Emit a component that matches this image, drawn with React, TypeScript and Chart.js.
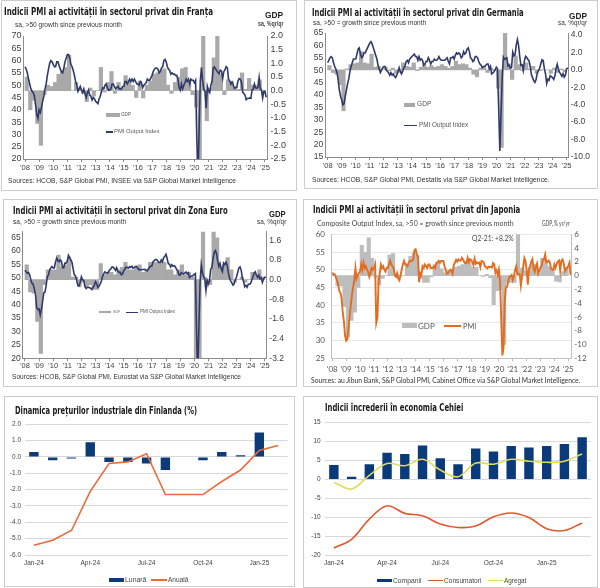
import React, { useEffect, useLayoutEffect, useRef } from "react";
import { Chart, registerables } from "chart.js";
Chart.register(...registerables);

const NARROW = '"Liberation Sans Narrow","DejaVu Sans Condensed","Arial Narrow",sans-serif';
const SANS = '"Liberation Sans",Arial,Helvetica,sans-serif';
const LATO = 'Lato,"Open Sans",sans-serif';

// ---------- data ----------
const YEARS = [2008, 2009, 2010, 2011, 2012, 2013, 2014, 2015, 2016, 2017, 2018, 2019, 2020, 2021, 2022, 2023, 2024, 2025];

const FR_PMI = [
  57.5, 56.5, 55.0, 52.5, 50.5, 48.5, 47.5, 47.0, 45.5, 42.0, 38.0, 36.5,
  40.0, 39.0, 41.0, 43.5, 45.5, 48.5, 50.5, 54.0, 56.5, 59.0, 60.0, 59.5,
  58.5, 57.5, 57.5, 59.5, 59.5, 58.0, 56.5, 55.5, 55.0, 57.0, 59.5, 61.0,
  62.5, 62.5, 61.0, 58.5, 57.5, 56.0, 54.0, 51.5, 50.0, 47.5, 48.5, 49.5,
  48.0, 47.0, 48.5, 46.5, 45.0, 47.0, 48.0, 46.0, 45.5, 44.0, 45.0, 44.5,
  43.5, 43.0, 42.5, 44.5, 45.5, 47.5, 49.0, 48.5, 50.0, 50.5, 49.0, 48.0,
  48.0, 48.5, 50.5, 50.5, 49.5, 48.5, 49.0, 49.5, 48.5, 48.5, 48.5, 49.5,
  49.5, 51.5, 51.5, 50.5, 51.5, 52.5, 51.5, 52.5, 51.5, 52.5, 51.5, 50.5,
  50.5, 50.0, 51.5, 51.0, 49.0, 50.0, 50.5, 51.0, 52.5, 52.0, 52.0, 53.0,
  54.0, 55.5, 56.5, 57.0, 57.0, 56.5, 55.0, 55.5, 57.0, 57.5, 60.0, 60.5,
  59.5, 57.5, 56.5, 56.0, 54.5, 55.0, 54.5, 54.5, 54.0, 54.0, 52.5, 49.0,
  48.0, 50.5, 48.5, 50.0, 51.0, 52.5, 51.5, 52.5, 50.5, 52.5, 52.0, 52.0,
  51.0, 52.0, 28.9, 11.1, 32.1, 51.7, 57.3, 51.6, 48.5, 47.5, 40.6, 49.5,
  47.7, 47.0, 50.0, 51.6, 57.0, 57.4, 56.6, 55.9, 55.3, 54.7, 56.1, 55.8,
  52.7, 55.5, 56.3, 57.6, 57.0, 52.5, 51.7, 50.4, 51.2, 50.2, 48.7, 49.1,
  49.1, 51.7, 52.7, 52.4, 51.2, 47.2, 46.6, 46.0, 44.1, 44.6, 44.6, 44.8,
  44.6, 48.1, 48.3, 50.5, 48.9, 48.8, 49.1, 53.1, 48.6, 48.1, 44.8, 47.5,
  47.6, 45.1,
];
const FR_GDP = [
  0.5, -0.7, -0.35, -1.2,
  -2.0, -0.15, 0.2, 0.15,
  0.3, 0.6, 0.7, 0.85,
  1.3, 0.0, 0.3, 0.1,
  -0.1, -0.4, 0.1, -0.2,
  0.0, 0.85, -0.05, 0.3,
  0.7, -0.1, 0.3, 0.1,
  0.55, 0.4, 0.2, -0.25,
  0.35, -0.27, 0.2, 0.35,
  0.6, 0.65, 0.75, 0.8,
  0.2, -0.1, 0.3, 0.5,
  0.8, 0.85, 0.3, -0.15,
  -0.6, -13.5, 18.5, -1.1,
  0.1, 1.2, 3.0, 0.6,
  -0.15, 0.4, 0.35, 0.1,
  0.05, 0.65, 0.05, 0.45,
  0.2, 0.2, 0.4, -0.1,
];

const DE_PMI = [
  53.0, 54.0, 55.0, 55.5, 55.0, 53.0, 51.5, 50.5, 49.0, 46.0, 42.0, 39.5,
  38.0, 36.0, 36.5, 39.5, 42.0, 44.5, 46.5, 49.5, 51.5, 53.0, 54.5, 54.5,
  54.5, 56.5, 58.5, 59.0, 56.5, 55.0, 55.5, 57.0, 57.0, 58.0, 59.0, 60.0,
  61.0, 61.5, 60.5, 59.0, 57.5, 56.0, 54.5, 52.0, 50.5, 49.0, 50.0, 51.0,
  51.5, 51.5, 50.0, 49.5, 49.0, 48.0, 49.0, 48.0, 48.5, 47.5, 47.0, 48.0,
  49.5, 51.0, 49.5, 48.5, 49.5, 51.0, 51.5, 53.5, 54.0, 53.0, 54.5, 55.0,
  55.5, 56.0, 56.5, 55.5, 55.5, 54.0, 55.5, 54.0, 54.5, 54.0, 52.0, 52.5,
  53.5, 53.5, 55.0, 54.0, 52.5, 53.5, 53.5, 54.5, 54.0, 54.0, 54.5, 55.5,
  54.5, 54.0, 54.0, 54.0, 54.0, 54.5, 55.0, 53.5, 52.5, 55.0, 55.0, 55.5,
  54.5, 56.0, 57.0, 56.5, 57.0, 56.5, 55.0, 55.5, 57.5, 56.5, 57.0, 58.5,
  59.0, 57.5, 55.0, 54.5, 53.5, 54.0, 55.5, 55.5, 55.0, 53.5, 52.5, 52.0,
  51.0, 51.5, 51.5, 52.0, 52.5, 52.5, 50.5, 51.5, 48.5, 48.9, 49.4, 50.2,
  51.2, 50.7, 35.0, 17.4, 32.3, 47.0, 55.3, 54.4, 54.7, 55.0, 51.7, 52.0,
  50.8, 51.1, 57.3, 55.8, 56.2, 60.1, 62.4, 60.0, 55.5, 52.0, 52.2, 49.9,
  53.8, 55.6, 55.1, 54.3, 53.7, 51.3, 48.1, 46.9, 45.7, 45.1, 46.3, 49.0,
  49.9, 50.7, 52.6, 54.2, 53.9, 50.6, 48.5, 44.6, 46.4, 45.9, 47.8, 47.4,
  47.0, 46.3, 47.7, 50.6, 52.4, 50.4, 49.1, 48.4, 47.5, 48.6, 47.2, 48.0,
  50.5, 51.0,
];
const DE_GDP = [
  0.5, -0.3, -0.5, -1.7,
  -4.7, 0.1, 0.6, 0.7,
  0.8, 2.1, 0.8, 0.7,
  1.8, 0.3, 0.4, 0.0,
  0.3, -0.1, 0.2, -0.4,
  -0.3, 0.8, 0.4, 0.3,
  0.8, -0.1, 0.3, 0.6,
  0.3, 0.5, 0.3, 0.4,
  0.6, 0.4, 0.2, 0.4,
  1.0, 0.6, 0.7, 0.6,
  0.2, -0.5, -0.8, 0.2,
  0.4, -0.3, 0.2, -0.1,
  -2.1, -8.9, 8.5, 0.7,
  -1.1, 1.6, 0.6, -0.1,
  0.8, 0.1, 0.4, -0.4,
  -0.1, 0.0, 0.0, -0.4,
  0.2, -0.3, 0.1, -0.2,
];

const EZ_PMI = [
  52.8, 52.3, 51.7, 52.0, 51.1, 49.3, 47.9, 47.6, 45.9, 43.6, 38.9, 38.2,
  38.4, 36.2, 38.3, 41.1, 44.4, 44.6, 47.0, 50.4, 51.1, 53.0, 53.7, 54.2,
  53.7, 53.7, 55.9, 57.3, 56.4, 56.0, 56.7, 56.2, 53.8, 53.8, 55.5, 55.5,
  56.2, 58.4, 57.6, 56.7, 55.8, 53.3, 51.1, 50.7, 49.1, 47.2, 47.0, 48.3,
  50.4, 49.3, 49.1, 46.7, 46.0, 46.4, 46.5, 46.3, 46.1, 45.7, 46.5, 47.2,
  48.6, 47.9, 46.5, 46.9, 47.7, 48.7, 50.5, 51.5, 52.2, 51.9, 51.7, 52.1,
  52.9, 53.3, 54.0, 54.0, 53.5, 52.8, 53.8, 52.5, 52.0, 52.1, 51.1, 51.4,
  52.6, 53.3, 54.0, 53.9, 53.6, 54.2, 53.9, 54.3, 53.6, 53.9, 54.2, 54.3,
  53.6, 53.0, 53.1, 53.0, 53.1, 53.1, 53.2, 52.9, 52.6, 53.3, 53.9, 54.4,
  54.4, 56.0, 56.4, 56.8, 56.8, 56.3, 55.7, 55.7, 56.7, 56.0, 57.5, 58.1,
  58.8, 57.1, 55.2, 55.1, 54.1, 54.9, 54.3, 54.5, 54.1, 53.1, 52.7, 51.1,
  51.0, 51.9, 51.6, 51.5, 51.8, 52.2, 51.5, 51.9, 50.1, 50.6, 50.6, 50.9,
  51.3, 51.6, 29.7, 13.6, 31.9, 48.5, 54.9, 51.9, 50.4, 50.0, 45.3, 49.1,
  47.8, 48.8, 53.2, 53.8, 57.1, 59.5, 60.2, 59.0, 56.2, 54.2, 55.4, 53.3,
  52.3, 55.5, 54.9, 55.8, 54.8, 52.0, 49.9, 48.9, 48.1, 47.3, 47.8, 49.3,
  50.3, 52.0, 53.7, 54.1, 52.8, 49.9, 48.6, 46.7, 47.2, 46.5, 47.6, 47.6,
  47.9, 49.2, 50.3, 51.7, 52.2, 50.9, 50.2, 51.0, 49.6, 50.0, 48.3, 49.6,
  50.2, 50.2,
];
const EZ_GDP = [
  0.6, -0.5, -0.55, -1.7,
  -3.0, -0.2, 0.4, 0.4,
  0.4, 1.0, 0.5, 0.6,
  0.9, 0.1, 0.1, -0.3,
  -0.1, -0.3, -0.2, -0.4,
  -0.4, 0.65, 0.2, 0.3,
  0.3, 0.2, 0.4, 0.5,
  0.7, 0.4, 0.4, 0.5,
  0.6, 0.3, 0.4, 0.7,
  0.7, 0.7, 0.7, 0.7,
  0.4, 0.4, 0.2, 0.4,
  0.6, 0.2, 0.3, 0.1,
  -3.5, -11.6, 12.5, -0.3,
  -0.2, 2.2, 1.7, 0.5,
  0.6, 0.9, 0.4, -0.1,
  0.0, 0.1, -0.1, 0.0,
  0.3, 0.2, 0.4, 0.1,
];

const JP_PMI = [
  49.2, 48.8, 48.5, 48.0, 47.0, 46.0, 44.0, 43.5, 42.0, 38.0, 35.5, 31.5,
  30.0, 30.5, 33.5, 37.0, 40.0, 43.0, 45.0, 47.0, 50.5, 47.5, 48.5, 49.0,
  49.5, 51.5, 50.0, 52.0, 50.5, 51.0, 50.0, 49.5, 48.0, 49.0, 50.5, 50.0,
  50.5, 51.5, 35.0, 36.5, 46.5, 49.0, 51.5, 50.5, 51.0, 50.0, 49.5, 50.5,
  50.5, 51.5, 52.5, 51.5, 51.0, 50.5, 48.5, 48.0, 49.0, 47.5, 47.0, 48.5,
  50.0, 51.5, 52.5, 51.5, 51.5, 51.0, 52.0, 52.5, 52.5, 52.5, 53.0, 55.5,
  55.8, 54.5, 53.5, 46.5, 49.0, 48.5, 51.0, 50.5, 51.5, 51.0, 50.5, 51.5,
  51.5, 50.5, 50.5, 50.5, 51.0, 50.5, 52.0, 52.0, 52.5, 52.0, 52.5, 52.5,
  52.5, 51.0, 50.0, 48.9, 49.0, 49.5, 50.0, 49.8, 48.9, 51.3, 52.0, 52.8,
  52.3, 52.9, 52.6, 52.6, 53.4, 52.9, 52.2, 51.9, 51.9, 53.4, 52.2, 53.0,
  52.8, 52.2, 51.3, 53.1, 51.7, 52.1, 51.8, 52.0, 50.7, 52.5, 52.4, 52.0,
  50.9, 50.7, 50.4, 50.8, 50.7, 50.8, 50.6, 51.9, 51.5, 49.1, 49.8, 48.6,
  50.1, 47.0, 36.2, 25.8, 27.8, 40.8, 44.9, 45.2, 46.6, 48.0, 48.1, 48.5,
  47.1, 48.2, 49.9, 51.0, 48.8, 48.9, 48.8, 45.5, 47.9, 50.7, 53.3, 52.5,
  49.9, 45.8, 50.3, 51.1, 52.3, 53.0, 50.2, 49.4, 51.0, 51.8, 48.9, 49.7,
  50.7, 51.1, 52.9, 52.9, 54.3, 52.1, 52.2, 52.6, 52.1, 50.5, 50.0, 50.0,
  51.5, 50.6, 51.7, 52.3, 52.6, 49.7, 52.5, 52.9, 52.0, 49.6, 50.1, 50.5,
  51.1, 52.0, 48.5,
];
const JP_GDP = [
  0.3, -1.5, -1.5, -4.5,
  -8.9, -6.5, -5.3, -1.7,
  4.4, 3.4, 5.5, 2.5,
  -0.3, -1.4, -0.4, 0.0,
  3.0, 3.2, 0.2, -0.1,
  0.0, 1.5, 2.8, 3.3,
  3.0, -0.4, -1.0, -1.0,
  -0.2, 1.6, 1.9, 1.0,
  0.4, 0.8, 0.9, 1.2,
  1.4, 1.6, 2.0, 2.0,
  1.2, 1.2, 0.0, -0.1,
  0.2, -0.3, -4.2, -2.2,
  -2.0, -10.0, -1.0, -1.0,
  -1.0, 8.2, 1.1, 0.7,
  0.6, 1.6, 1.6, 0.3,
  2.5, 2.2, 1.3, 1.0,
  -0.8, -0.9, 0.6, 1.2,
];

const FR_LEFT_TICKS = [20, 25, 30, 35, 40, 45, 50, 55, 60, 65, 70];
const FR_RIGHT_TICKS = [-2.5, -2.0, -1.5, -1.0, -0.5, 0.0, 0.5, 1.0, 1.5, 2.0];
const DE_LEFT_TICKS = [15, 20, 25, 30, 35, 40, 45, 50, 55, 60, 65];
const DE_RIGHT_TICKS = [-10, -8, -6, -4, -2, 0, 2, 4];
const EZ_LEFT_TICKS = [20, 25, 30, 35, 40, 45, 50, 55, 60, 65];
const EZ_RIGHT_TICKS = [-3.2, -2.4, -1.6, -0.8, 0.0, 0.8, 1.6];
const JP_LEFT_TICKS = [25, 30, 35, 40, 45, 50, 55, 60];
const JP_RIGHT_TICKS = [-12, -10, -8, -6, -4, -2, 0, 2, 4, 6];

const FI_MONTHS = ["Jan-24", "Feb-24", "Mar-24", "Apr-24", "May-24", "Jun-24", "Jul-24", "Aug-24", "Sep-24", "Oct-24", "Nov-24", "Dec-24", "Jan-25", "Feb-25"];
const FI_MONTHLY = [0.3, -0.2, -0.1, 0.9, -0.3, -0.3, -0.4, -0.8, 0.0, -0.2, 0.3, 0.1, 1.5, 0.0];
const FI_ANNUAL = [-5.4, -5.1, -4.5, -2.1, -0.4, -0.3, 0.2, -2.3, -2.3, -2.3, -1.5, -0.8, 0.4, 0.7];
const FI_TICKS = [-6, -5, -4, -3, -2, -1, 0, 1, 2];

const CZ_MONTHS = ["Jan-24", "Feb-24", "Mar-24", "Apr-24", "May-24", "Jun-24", "Jul-24", "Aug-24", "Sep-24", "Oct-24", "Nov-24", "Dec-24", "Jan-25", "Feb-25", "Mar-25"];
const CZ_COMPANII = [3.8, 0.7, 4.0, 7.0, 6.7, 8.9, 5.6, 4.0, 8.1, 7.35, 8.8, 8.4, 8.8, 9.3, 11.1];
const CZ_CONSUMATORI = [-18.0, -15.7, -10.4, -6.9, -8.9, -9.5, -11.7, -12.6, -12.2, -9.8, -8.8, -10.0, -12.9, -13.4, -11.4];
const CZ_AGREGAT = [-0.7, -2.5, 1.1, 4.2, 3.6, 5.3, 2.5, 0.7, 4.3, 4.0, 5.3, 4.8, 4.5, 4.8, 6.7];
const CZ_TICKS = [-20, -15, -10, -5, 0, 5, 10, 15];

// ---------- helpers ----------
type Box = { x: number; y: number; w: number; h: number };
type Plot = { l: number; r: number; t: number; b: number };

function padFor(box: Box, p: Plot, yW: number, y1W: number, xH: number) {
  return {
    left: p.l - box.x - yW,
    right: box.x + box.w - p.r - y1W,
    top: p.t - box.y,
    bottom: box.y + box.h - p.b - xH,
  };
}

function setTicks(list: number[]) {
  return (s: any) => {
    s.ticks = list.map((v) => ({ value: v }));
  };
}

function pmiConfig(o: any) {
  const pad = padFor(o.box, o.plot, o.yW, o.y1W, o.xH);
  return {
    type: "bar",
    data: {
      datasets: [
        {
          type: "line",
          data: o.pmi.map((v: number, i: number) => ({ x: 2008 + i / 12, y: v })),
          borderColor: o.lineColor,
          borderWidth: o.lineWidth,
          pointRadius: 0,
          tension: 0,
          yAxisID: "y",
          xAxisID: "x",
        },
        {
          type: "bar",
          data: o.gdp.map((v: number, i: number) => ({ x: 2008 + (i + 0.5) / 4, y: v })),
          backgroundColor: o.barColor,
          borderWidth: 0,
          barPercentage: 1,
          categoryPercentage: 1,
          yAxisID: "y1",
          xAxisID: "x",
        },
      ],
    },
    options: {
      responsive: false,
      maintainAspectRatio: false,
      animation: false,
      events: [],
      layout: { padding: pad },
      plugins: { legend: { display: false }, tooltip: { enabled: false } },
      scales: {
        x: {
          type: "linear",
          offset: false,
          min: o.xMin,
          max: o.xMax,
          afterBuildTicks: setTicks(YEARS),
          afterFit: (s: any) => {
            s.height = o.xH;
          },
          ticks: {
            callback: (v: any) => "'" + String(v).slice(2),
            font: { family: o.font, size: o.xFont },
            color: o.textColor,
            padding: o.xPad,
            maxRotation: 0,
            autoSkip: false,
          },
          grid: { display: true, offset: false, drawOnChartArea: false, drawTicks: true, tickLength: 3, color: o.axisColor },
          border: { display: true, color: o.axisColor },
        },
        y: {
          position: "left",
          min: o.yMin,
          max: o.yMax,
          afterBuildTicks: setTicks(o.yTicks),
          afterFit: (s: any) => {
            s.width = o.yW;
          },
          ticks: {
            autoSkip: false,
            callback: (v: any) => String(v),
            font: { family: o.font, size: o.yFont },
            color: o.textColor,
            padding: o.yPad,
          },
          grid: { display: !!o.grid, color: o.grid || "#fff", drawTicks: false },
          border: { display: true, color: o.axisColor },
        },
        y1: {
          position: "right",
          min: o.y1Min,
          max: o.y1Max,
          afterBuildTicks: setTicks(o.y1Ticks),
          afterFit: (s: any) => {
            s.width = o.y1W;
          },
          ticks: {
            autoSkip: false,
            callback: (v: any) => Number(v).toFixed(o.y1Dec),
            font: { family: o.font, size: o.yFont },
            color: o.textColor,
            padding: o.y1Pad,
          },
          grid: { display: false, drawTicks: false },
          border: { display: true, color: o.axisColor },
        },
      },
    },
  };
}

function catConfig(o: any) {
  const pad = padFor(o.box, o.plot, o.yW, 0, o.xH);
  return {
    type: "bar",
    data: { labels: o.labels, datasets: o.datasets },
    options: {
      responsive: false,
      maintainAspectRatio: false,
      animation: false,
      events: [],
      layout: { padding: pad },
      plugins: { legend: { display: false }, tooltip: { enabled: false } },
      scales: {
        x: {
          afterFit: (s: any) => {
            s.height = o.xH;
          },
          ticks: {
            autoSkip: false,
            maxRotation: 0,
            callback: (v: any) => ((v as number) % 3 === 0 ? o.labels[v as number] : ""),
            font: { family: SANS, size: 6.5 },
            color: "#444",
            padding: 4,
          },
          grid: { display: false, drawTicks: false },
          border: { display: false },
        },
        y: {
          min: o.yMin,
          max: o.yMax,
          afterBuildTicks: setTicks(o.yTicks),
          afterFit: (s: any) => {
            s.width = o.yW;
          },
          ticks: {
            autoSkip: false,
            callback: (v: any) => Number(v).toFixed(o.yDec),
            font: { family: SANS, size: 6.5 },
            color: "#444",
            padding: o.yPad,
          },
          grid: { color: "#d9d9d9", drawTicks: false },
          border: { display: false },
        },
      },
    },
  };
}

function ChartBox({ box, make }: { box: Box; make: () => any }) {
  const ref = useRef<HTMLCanvasElement>(null);
  useEffect(() => {
    const c = new Chart(ref.current as HTMLCanvasElement, make());
    return () => c.destroy();
  }, []);
  return (
    <canvas
      ref={ref}
      width={box.w}
      height={box.h}
      style={{ position: "absolute", left: box.x, top: box.y, width: box.w, height: box.h }}
    />
  );
}

function Txt({ x, y, w, text, size, font = SANS, weight = 400, color = "#222" }: any) {
  const ref = useRef<HTMLDivElement>(null);
  useLayoutEffect(() => {
    const el = ref.current;
    if (!el) return;
    el.style.transform = "translateY(-50%)";
    const nat = el.getBoundingClientRect().width;
    if (w && nat > 0) el.style.transform = `translateY(-50%) scaleX(${(w / nat).toFixed(4)})`;
  });
  return (
    <div
      ref={ref}
      style={{
        position: "absolute",
        left: x,
        top: y,
        fontSize: size,
        fontFamily: font,
        fontWeight: weight,
        color,
        whiteSpace: "nowrap",
        lineHeight: 1,
        transformOrigin: "0 50%",
      }}
    >
      {text}
    </div>
  );
}

function Rect({ x, y, w, h, c }: any) {
  return <div style={{ position: "absolute", left: x, top: y, width: w, height: h, background: c }} />;
}

function Frame({ b }: { b: Box }) {
  return (
    <div
      style={{
        position: "absolute",
        left: b.x,
        top: b.y,
        width: b.w,
        height: b.h,
        boxSizing: "border-box",
        border: "1px solid #cdcdcd",
        pointerEvents: "none",
      }}
    />
  );
}

// ---------- layouts ----------
const NAVY_LINE = "#2f3a6a";
const GRAY_BAR = "#a9a9a9";

const FR_BOX = { x: 1, y: 0, w: 296, h: 191 };
const DE_BOX = { x: 304, y: 0, w: 294, h: 189 };
const EZ_BOX = { x: 3, y: 199, w: 294, h: 188 };
const JP_BOX = { x: 303, y: 199, w: 295, h: 188 };
const FI_BOX = { x: 4, y: 396, w: 291, h: 191 };
const CZ_BOX = { x: 303, y: 396, w: 295, h: 192 };

const frCfg = () =>
  pmiConfig({
    box: FR_BOX, plot: { l: 23, r: 267, t: 36, b: 159 }, yW: 20, y1W: 22, xH: 16,
    pmi: FR_PMI, gdp: FR_GDP, lineColor: NAVY_LINE, lineWidth: 1.6, barColor: GRAY_BAR,
    xMin: 2007.858, xMax: 2025.142,
    yMin: 20, yMax: 70, yTicks: FR_LEFT_TICKS, y1Min: -2.5, y1Max: 2.0, y1Ticks: FR_RIGHT_TICKS, y1Dec: 1,
    font: SANS, yFont: 9, xFont: 7.5, xPad: 1.5, yPad: 1.5, y1Pad: 3.5, textColor: "#404040", axisColor: "#8c8c8c",
  });

const deCfg = () =>
  pmiConfig({
    box: DE_BOX, plot: { l: 325, r: 568, t: 33, b: 157 }, yW: 21, y1W: 22, xH: 16,
    pmi: DE_PMI, gdp: DE_GDP, lineColor: NAVY_LINE, lineWidth: 1.6, barColor: GRAY_BAR,
    xMin: 2007.81, xMax: 2025.1,
    yMin: 15, yMax: 65, yTicks: DE_LEFT_TICKS, y1Min: -10, y1Max: 4.23, y1Ticks: DE_RIGHT_TICKS, y1Dec: 1,
    font: SANS, yFont: 8.5, xFont: 7.5, xPad: 1.5, yPad: 1.7, y1Pad: 2.7, textColor: "#404040", axisColor: "#8c8c8c",
  });

const ezCfg = () =>
  pmiConfig({
    box: EZ_BOX, plot: { l: 22.7, r: 266, t: 231.7, b: 358.3 }, yW: 19, y1W: 22, xH: 14,
    pmi: EZ_PMI, gdp: EZ_GDP, lineColor: NAVY_LINE, lineWidth: 1.6, barColor: GRAY_BAR,
    xMin: 2007.84, xMax: 2025.09,
    yMin: 20, yMax: 67.2, yTicks: EZ_LEFT_TICKS, y1Min: -3.2, y1Max: 1.95, y1Ticks: EZ_RIGHT_TICKS, y1Dec: 1,
    font: SANS, yFont: 8.5, xFont: 7.5, xPad: 0.5, yPad: 2, y1Pad: 3.3, textColor: "#404040", axisColor: "#8c8c8c",
  });

const jpCfg = () =>
  pmiConfig({
    box: JP_BOX, plot: { l: 331, r: 571.7, t: 234.3, b: 358.3 }, yW: 22, y1W: 20, xH: 16,
    pmi: JP_PMI, gdp: JP_GDP, lineColor: "#e36c1e", lineWidth: 1.9, barColor: "#bdbdbd",
    xMin: 2007.906, xMax: 2025.245,
    yMin: 25, yMax: 60, yTicks: JP_LEFT_TICKS, y1Min: -12, y1Max: 6, y1Ticks: JP_RIGHT_TICKS, y1Dec: 0,
    font: LATO, yFont: 8, xFont: 8, xPad: 3, yPad: 6, y1Pad: 2.6, textColor: "#555", axisColor: "#bfbfbf", grid: "#e8e8e8",
  });

const fiCfg = () =>
  catConfig({
    box: FI_BOX, plot: { l: 24.5, r: 287.5, t: 424.3, b: 555 }, yW: 20, xH: 12,
    labels: FI_MONTHS, yMin: -6, yMax: 2, yTicks: FI_TICKS, yDec: 1, yPad: 3.5,
    datasets: [
      { type: "line", data: FI_ANNUAL, borderColor: "#ec6a3a", borderWidth: 1.6, pointRadius: 0, tension: 0 },
      { type: "bar", data: FI_MONTHLY, backgroundColor: "#0c3b78", categoryPercentage: 0.5, barPercentage: 1 },
    ],
  });

const czCfg = () =>
  catConfig({
    box: CZ_BOX, plot: { l: 325, r: 591, t: 422.3, b: 555.7 }, yW: 20, xH: 12,
    labels: CZ_MONTHS, yMin: -20, yMax: 15, yTicks: CZ_TICKS, yDec: 0, yPad: 4.3,
    datasets: [
      { type: "line", data: CZ_AGREGAT, borderColor: "#dedc5c", borderWidth: 1.6, pointRadius: 0, tension: 0.35 },
      { type: "line", data: CZ_CONSUMATORI, borderColor: "#e2582d", borderWidth: 1.6, pointRadius: 0, tension: 0.35 },
      { type: "bar", data: CZ_COMPANII, backgroundColor: "#0b3a7a", categoryPercentage: 0.53, barPercentage: 1 },
    ],
  });

export default function App() {
  return (
    <div style={{ position: "absolute", left: 0, top: 0, width: 600, height: 588, background: "#fff", overflow: "hidden" }}>
      {/* France */}
      <ChartBox box={FR_BOX} make={frCfg} />
      <Txt x={4} y={11} w={209} size={10.5} font={NARROW} weight={700} color="#1a1a1a" text="Indicii PMI ai activității în sectorul privat din Franța" />
      <Txt x={265} y={15} w={18} size={9} weight={700} color="#222" text="GDP" />
      <Txt x={258} y={23.5} w={25.5} size={6.5} weight={700} color="#444" text="sa, %qr/qr" />
      <Txt x={15} y={25} w={107} size={6.5} color="#333" text="sa, >50 growth since previous month" />
      <Txt x={8.3} y={181} w={228} size={6.7} color="#333" text="Sources: HCOB, S&P Global PMI, INSEE via S&P Global Market Intelligence" />
      <Rect x={106} y={112.7} w={14} h={4} c={GRAY_BAR} />
      <Txt x={121} y={114.5} w={10} size={5.5} color="#555" text="GDP" />
      <Rect x={106} y={131.3} w={7} h={1.6} c={NAVY_LINE} />
      <Txt x={113.5} y={132} w={45.5} size={5.5} color="#555" text="PMI Output Index" />
      <Frame b={FR_BOX} />

      {/* Germany */}
      <ChartBox box={DE_BOX} make={deCfg} />
      <Txt x={311.7} y={12} w={211.7} size={10.5} font={NARROW} weight={700} color="#1a1a1a" text="Indicii PMI ai activității în sectorul privat din Germania" />
      <Txt x={569.3} y={15.5} w={18} size={9} weight={700} color="#222" text="GDP" />
      <Txt x={558.3} y={23.3} w={29} size={6.5} color="#333" text="sa, %qr/qr" />
      <Txt x={313.3} y={23.3} w={113.3} size={6.5} color="#333" text="sa, >50 = growth since previous month" />
      <Txt x={311.7} y={180} w={237.7} size={6.7} color="#333" text="Sources: HCOB, S&P Global PMI, Destatis via S&P Global Market Intelligence." />
      <Rect x={404.3} y={102.7} w={10.7} h={4} c={GRAY_BAR} />
      <Txt x={416.7} y={104.3} w={14.3} size={6.5} color="#555" text="GDP" />
      <Rect x={404.3} y={124.5} w={13} h={1.6} c={NAVY_LINE} />
      <Txt x={419} y={125.3} w={49.3} size={6.3} color="#555" text="PMI Output Index" />
      <Frame b={DE_BOX} />

      {/* Euro zone */}
      <ChartBox box={EZ_BOX} make={ezCfg} />
      <Txt x={12.7} y={210} w={214.7} size={10.5} font={NARROW} weight={700} color="#1a1a1a" text="Indicii PMI ai activității în sectorul privat din Zona Euro" />
      <Txt x={269.3} y={214} w={16.7} size={9} weight={700} color="#222" text="GDP" />
      <Txt x={256.7} y={222.3} w={29.3} size={6.5} color="#333" text="sa, %qr/qr" />
      <Txt x={13.3} y={222.3} w={113.3} size={6.5} color="#333" text="sa, >50 = growth since previous month" />
      <Txt x={11.7} y={376.7} w={229} size={6.7} color="#333" text="Sources: HCOB, S&P Global PMI, Eurostat via S&P Global Market Intelligence" />
      <Rect x={99.3} y={311.3} w={11.4} h={2} c={GRAY_BAR} />
      <Txt x={113.3} y={312.3} w={6.7} size={4} color="#555" text="GDP" />
      <Rect x={126} y={311.6} w={12.3} h={1.4} c={NAVY_LINE} />
      <Txt x={140} y={312.3} w={35} size={4.5} color="#555" text="PMI Output Index" />
      <Frame b={EZ_BOX} />

      {/* Japan */}
      <ChartBox box={JP_BOX} make={jpCfg} />
      <Txt x={313.3} y={209} w={207.3} size={10.5} font={NARROW} weight={700} color="#1a1a1a" text="Indicii PMI ai activității în sectorul privat din Japonia" />
      <Txt x={316.7} y={223.3} w={196.7} size={7} font={LATO} color="#444" text="Composite Output Index, sa, >50 = growth since previous month" />
      <Txt x={542.3} y={223.3} w={27.7} size={7} font={LATO} color="#444" text="GDP, % yr/yr" />
      <Txt x={471.7} y={238.3} w={41.7} size={7} font={LATO} color="#444" text="Q2-21: +8.2%" />
      <Rect x={401.7} y={322.7} w={15} h={5.6} c="#bdbdbd" />
      <Txt x={418.3} y={325.7} w={16.7} size={8} font={LATO} color="#555" text="GDP" />
      <Rect x={444.3} y={324.8} w={16.4} h={1.9} c="#e36c1e" />
      <Txt x={463.3} y={325.7} w={13.3} size={8} font={LATO} color="#555" text="PMI" />
      <Txt x={310.7} y={380} w={269.3} size={7} font={LATO} color="#333" text="Sources: au Jibun Bank, S&P Global PMI, Cabinet Office via S&P Global Market Intelligence." />
      <Frame b={JP_BOX} />

      {/* Finland */}
      <ChartBox box={FI_BOX} make={fiCfg} />
      <Txt x={15} y={410} w={182} size={10.5} font={NARROW} weight={700} color="#1a1a1a" text="Dinamica prețurilor industriale din Finlanda (%)" />
      <Rect x={109.3} y={578.3} w={14.7} h={3.4} c="#0c3b78" />
      <Txt x={125.3} y={580} w={21.4} size={6.5} color="#444" text="Lunară" />
      <Rect x={150.7} y={579.2} w={16} h={1.6} c="#ec6a3a" />
      <Txt x={168.3} y={580} w={20.4} size={6.5} color="#444" text="Anuală" />
      <Frame b={FI_BOX} />

      {/* Czech */}
      <ChartBox box={CZ_BOX} make={czCfg} />
      <Txt x={325} y={406.7} w={138.3} size={10.5} font={NARROW} weight={700} color="#1a1a1a" text="Indicii încrederii în economia Cehiei" />
      <Rect x={377.3} y={579} w={14.4} h={3.4} c="#0b3a7a" />
      <Txt x={393.3} y={580.7} w={28.4} size={6.5} color="#444" text="Companii" />
      <Rect x={428.3} y={579.9} w={15} h={1.6} c="#e2582d" />
      <Txt x={444.3} y={580.7} w={37.4} size={6.5} color="#444" text="Consumatori" />
      <Rect x={488.3} y={579.9} w={15} h={1.6} c="#dedc5c" />
      <Txt x={504.3} y={580.7} w={22.4} size={6.5} color="#444" text="Agregat" />
      <Frame b={CZ_BOX} />
    </div>
  );
}
